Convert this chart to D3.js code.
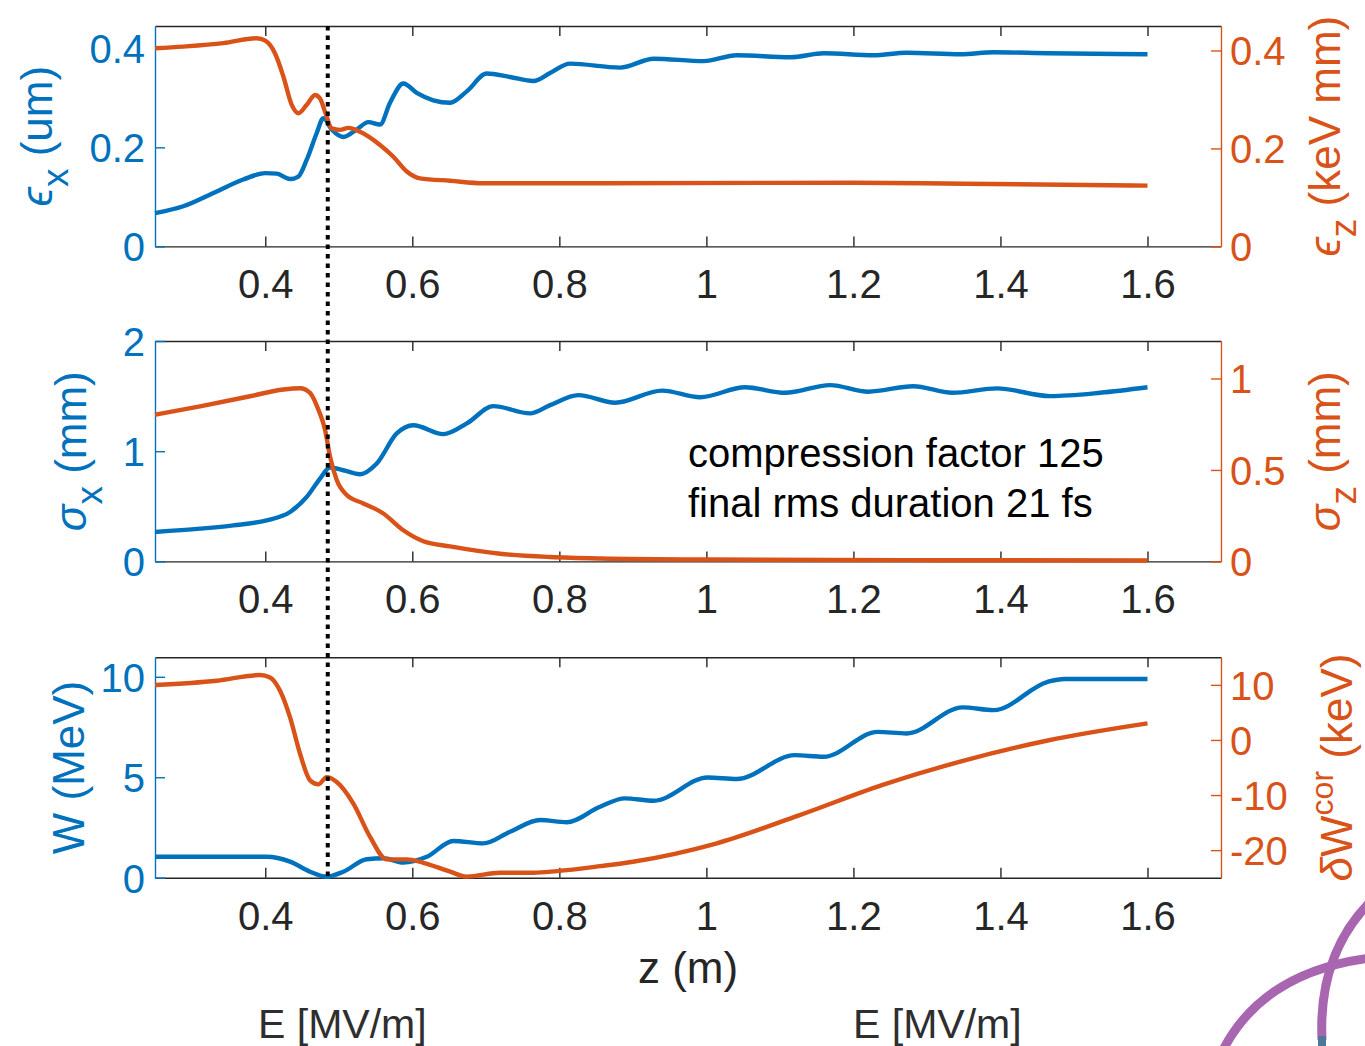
<!DOCTYPE html>
<html>
<head>
<meta charset="utf-8">
<style>
	body { margin: 0; background: #fff; }
	text { font-family: "Liberation Sans", Arial, Helvetica, sans-serif; }
</style>
</head>
<body>
<div id="chart"></div>
<script src="https://cdnjs.cloudflare.com/ajax/libs/d3/7.8.5/d3.min.js"></script>
<script>
	'use strict'
	// ---- data (z in m) ----
	let zTicks = [0.4, 0.6, 0.8, 1, 1.2, 1.4, 1.6]
	let markZ = 0.485

	let exZ = [0.25, 0.2885, 0.334, 0.37, 0.40, 0.4156, 0.4337, 0.445, 0.4564, 0.47, 0.479, 0.4904, 0.5062, 0.5244, 0.5402, 0.5561, 0.5697, 0.5878, 0.606, 0.6286, 0.6514, 0.6741, 0.7013, 0.733, 0.7647, 0.7874, 0.8146, 0.8827, 0.9284, 0.9961, 1.0413, 1.1146, 1.1597, 1.2274, 1.2724, 1.3458, 1.3909, 1.4643, 1.6]
	let exVal = [0.067, 0.081, 0.111, 0.135, 0.148, 0.147, 0.136, 0.141, 0.175, 0.229, 0.259, 0.236, 0.221, 0.236, 0.251, 0.246, 0.290, 0.329, 0.310, 0.295, 0.290, 0.313, 0.349, 0.342, 0.334, 0.350, 0.369, 0.361, 0.379, 0.374, 0.386, 0.382, 0.390, 0.386, 0.391, 0.388, 0.392, 0.390, 0.388]

	let ezZ = [0.25, 0.2885, 0.3429, 0.3884, 0.40, 0.4133, 0.4246, 0.436, 0.445, 0.4564, 0.4677, 0.4745, 0.4813, 0.4904, 0.5017, 0.513, 0.5289, 0.5561, 0.5742, 0.5924, 0.6105, 0.6514, 0.6967, 0.8554, 1.1991, 1.3515, 1.6]
	let ezVal = [0.4045, 0.408, 0.415, 0.425, 0.420, 0.394, 0.347, 0.289, 0.272, 0.289, 0.309, 0.302, 0.275, 0.241, 0.238, 0.242, 0.234, 0.207, 0.183, 0.153, 0.139, 0.134, 0.129, 0.129, 0.130, 0.128, 0.124]

	let sxZ = [0.25, 0.3112, 0.3565, 0.402, 0.4337, 0.4564, 0.4745, 0.4881, 0.5062, 0.5289, 0.5516, 0.5788, 0.6014, 0.6422, 0.6741, 0.7103, 0.7602, 0.7874, 0.8259, 0.8759, 0.9398, 0.9915, 1.0527, 1.1071, 1.1684, 1.2201, 1.2813, 1.3344, 1.3956, 1.4677, 1.5357, 1.6]
	let sxVal = [0.267, 0.297, 0.327, 0.373, 0.448, 0.585, 0.752, 0.852, 0.827, 0.791, 0.888, 1.161, 1.236, 1.155, 1.252, 1.409, 1.343, 1.418, 1.509, 1.44, 1.55, 1.49, 1.58, 1.53, 1.60, 1.54, 1.59, 1.53, 1.57, 1.50, 1.53, 1.58]

	let szZ = [0.25, 0.3112, 0.3793, 0.4246, 0.4473, 0.4609, 0.4722, 0.4813, 0.4881, 0.4972, 0.5108, 0.5334, 0.5606, 0.5878, 0.615, 0.6514, 0.7194, 0.7874, 0.8554, 1.0, 1.264, 1.6]
	let szVal = [0.802, 0.848, 0.903, 0.940, 0.947, 0.921, 0.830, 0.720, 0.573, 0.445, 0.363, 0.317, 0.262, 0.170, 0.110, 0.082, 0.042, 0.024, 0.016, 0.010, 0.007, 0.005]

	let wZ = [0.25, 0.402, 0.4337, 0.4609, 0.4836, 0.5062, 0.538, 0.5606, 0.5878, 0.6197, 0.6558, 0.6967, 0.733, 0.7738, 0.8101, 0.8554, 0.8889, 0.9284, 1.0017, 1.0413, 1.1202, 1.1597, 1.233, 1.2724, 1.3486, 1.3909, 1.4643, 1.4867, 1.6]
	let wVal = [1.04, 1.04, 0.80, 0.30, 0.05, 0.30, 0.92, 0.97, 0.75, 1.04, 1.83, 1.71, 2.29, 2.87, 2.76, 3.53, 3.95, 3.83, 4.99, 4.91, 6.10, 6.02, 7.26, 7.18, 8.48, 8.34, 9.75, 9.89, 9.89]

	let dwZ = [0.25, 0.334, 0.3929, 0.4065, 0.4201, 0.4337, 0.4473, 0.4609, 0.4722, 0.4836, 0.4972, 0.5198, 0.5425, 0.5652, 0.5924, 0.615, 0.6514, 0.6741, 0.7194, 0.7647, 0.7965, 0.8554, 0.9002, 1.013, 1.1259, 1.2387, 1.3515, 1.4643, 1.6]
	let dwVal = [9.97, 10.75, 11.78, 11.35, 8.94, 4.11, -2.50, -7.33, -8.06, -6.74, -7.64, -11.55, -17.59, -21.67, -21.67, -22.29, -23.9, -24.8, -24.1, -24.1, -23.8, -22.9, -22.1, -18.8, -13.7, -8.2, -3.7, -0.1, 3.0]

	let leftTicks = [[0, 0.2, 0.4], [0, 1, 2], [0, 5, 10]]
	let rightTicks = [[0, 0.2, 0.4], [0, 0.5, 1], [-20, -10, 0, 10]]
	let leftDomains = [[0, 0.445], [0, 2], [0, 10.97]]
	let rightDomains = [[0, 0.45], [0, 1.205], [-25, 15]]

	// ---- layout ----
	let W = 1365, H = 1046
	let blue = '#0072BD', orange = '#D95319', dark = '#262626'
	let plotL = 155, plotR = 1221
	let panelTop = [26, 341, 657.3]
	let panelH = 220.4

	let svg = d3.select('#chart').append('svg')
		.attr('width', W)
		.attr('height', H)

	let x = d3.scaleLinear().domain([0.25, 1.70]).range([plotL, plotR])

	let series = [
		[{z: exZ, v: exVal}, {z: ezZ, v: ezVal}],
		[{z: sxZ, v: sxVal}, {z: szZ, v: szVal}],
		[{z: wZ, v: wVal}, {z: dwZ, v: dwVal}]
	]

	let leftLabels = [
		{base: 52, parts: [{t: 'ϵ', greek: true}, {t: 'x', sub: true}, {t: ' (um)'}]},
		{base: 86, parts: [{t: 'σ', greek: true}, {t: 'x', sub: true}, {t: ' (mm)'}]},
		{base: 84, parts: [{t: 'W (MeV)'}]}
	]
	let rightLabels = [
		{base: 1340, parts: [{t: 'ϵ', greek: true}, {t: 'z', sub: true}, {t: ' (keV mm)'}]},
		{base: 1340, parts: [{t: 'σ', greek: true}, {t: 'z', sub: true}, {t: ' (mm)'}]},
		{base: 1352, parts: [{t: 'δ', greek: true}, {t: 'W'}, {t: 'cor', sup: true}, {t: ' (keV)'}]}
	]

	function addLabel(cy, lab, color){
		let t = svg.append('text')
			.attr('transform', 'translate(' + lab.base + ',' + cy + ') rotate(-90)')
			.attr('text-anchor', 'middle')
			.style('font-size', '44px')
			.style('fill', color)
		let shift = 0
		lab.parts.forEach(function(p){
			let ts = t.append('tspan').text(p.t)
			let target = 0
			if (p.sub) { target = 16; ts.style('font-size', '37px') }
			if (p.sup) { target = -19; ts.style('font-size', '32px') }
			if (p.greek) { ts.style('font-style', 'italic') }
			ts.attr('dy', target - shift)
			shift = target
		})
	}

	panelTop.forEach(function(top, i){
		let bottom = top + panelH
		let yL = d3.scaleLinear().domain(leftDomains[i]).range([bottom, top])
		let yR = d3.scaleLinear().domain(rightDomains[i]).range([bottom, top])

		let g = svg.append('g')

		// top and bottom x axes, ticks pointing inside
		let xb = g.append('g')
			.attr('transform', 'translate(0,' + bottom + ')')
			.call(d3.axisBottom(x).tickValues(zTicks).tickSize(-10).tickSizeOuter(0)
				.tickPadding(23.6).tickFormat(d3.format('')))
		let xt = g.append('g')
			.attr('transform', 'translate(0,' + top + ')')
			.call(d3.axisTop(x).tickValues(zTicks).tickSize(-10).tickSizeOuter(0).tickFormat(''))
		;[xb, xt].forEach(function(a){
			a.select('.domain').attr('stroke', dark).attr('stroke-width', 1.4)
			a.selectAll('.tick line').attr('stroke', dark).attr('stroke-width', 1.4)
		})
		xb.selectAll('.tick text').style('font-size', '40px').attr('fill', dark)

		let yl = g.append('g')
			.attr('transform', 'translate(' + plotL + ',0)')
			.call(d3.axisLeft(yL).tickValues(leftTicks[i]).tickSize(-10).tickSizeOuter(0)
				.tickPadding(10).tickFormat(d3.format('')))
		let yr = g.append('g')
			.attr('transform', 'translate(' + plotR + ',0)')
			.call(d3.axisRight(yR).tickValues(rightTicks[i]).tickSize(-10).tickSizeOuter(0)
				.tickPadding(9).tickFormat(d3.format('')))
		;[[yl, blue], [yr, orange]].forEach(function(p){
			p[0].select('.domain').attr('stroke', p[1]).attr('stroke-width', 1.4)
			p[0].selectAll('.tick line').attr('stroke', p[1]).attr('stroke-width', 1.4)
			p[0].selectAll('.tick text').style('font-size', '40px').attr('fill', p[1])
				.attr('dy', '0.36em')
		})
		yr.selectAll('.tick text').text(function(d){ return d < 0 ? '-' + Math.abs(d) : d })

		let lineL = d3.line().curve(d3.curveMonotoneX)
			.x(function(d){ return x(d[0]) }).y(function(d){ return yL(d[1]) })
		let lineR = d3.line().curve(d3.curveMonotoneX)
			.x(function(d){ return x(d[0]) }).y(function(d){ return yR(d[1]) })

		let sL = series[i][0], sR = series[i][1]
		g.append('path')
			.datum(d3.zip(sL.z, sL.v))
			.attr('d', lineL)
			.attr('fill', 'none')
			.attr('stroke', blue)
			.attr('stroke-width', 4.4)
		g.append('path')
			.datum(d3.zip(sR.z, sR.v))
			.attr('d', lineR)
			.attr('fill', 'none')
			.attr('stroke', orange)
			.attr('stroke-width', 4.4)

		let cy = top + panelH / 2
		addLabel(cy, leftLabels[i], blue)
		addLabel(cy, rightLabels[i], orange)
	})

	// dotted marker through all panels
	svg.append('line')
		.attr('x1', x(markZ)).attr('x2', x(markZ))
		.attr('y1', panelTop[0]).attr('y2', panelTop[2] + panelH)
		.attr('stroke', '#000')
		.attr('stroke-width', 4)
		.attr('stroke-dasharray', '4.5 5')

	// annotation
	svg.append('text').attr('x', 688).attr('y', 467)
		.style('font-size', '40px').attr('fill', '#000')
		.text('compression factor 125')
	svg.append('text').attr('x', 688).attr('y', 517)
		.style('font-size', '40px').attr('fill', '#000')
		.text('final rms duration 21 fs')

	svg.append('text')
		.attr('x', (plotL + plotR) / 2).attr('y', 983)
		.attr('text-anchor', 'middle')
		.style('font-size', '44px').attr('fill', dark)
		.text('z (m)')

	// bits of the slide behind the figure
	svg.append('text').attr('x', 258).attr('y', 1038)
		.style('font-size', '41px').attr('fill', '#2e2e2e').text('E [MV/m]')
	svg.append('text').attr('x', 853).attr('y', 1038)
		.style('font-size', '41px').attr('fill', '#2e2e2e').text('E [MV/m]')

	svg.append('path')
		.attr('d', 'M1222,1052 Q1262,972 1370,958')
		.attr('fill', 'none').attr('stroke', '#A966B0').attr('stroke-width', 9)
	svg.append('path')
		.attr('d', 'M1322,1040 Q1318,955 1370,902')
		.attr('fill', 'none').attr('stroke', '#A966B0').attr('stroke-width', 9)
	svg.append('rect')
		.attr('x', 1318).attr('y', 1036).attr('width', 8).attr('height', 10)
		.attr('fill', '#4f7896')
</script>
</body>
</html>
